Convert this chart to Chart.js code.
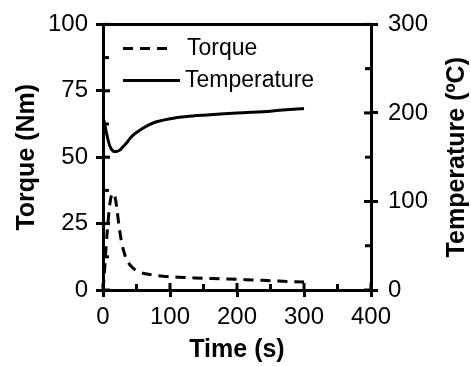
<!DOCTYPE html>
<html>
<head>
<meta charset="utf-8">
<script src="https://cdn.jsdelivr.net/npm/chart.js"></script>
<style>
  html, body { margin: 0; padding: 0; background: #fff; }
  #wrap { width: 471px; height: 367px; }
</style>
</head>
<body>
<div id="wrap"><canvas id="chart" width="471" height="367"></canvas></div>
<script>
// Torque curve (left axis, Nm)
const torqueTime = [0, 2, 4, 6, 8, 10, 12, 15, 18, 21, 24, 27, 30, 35, 40, 45, 50, 60, 70, 80, 100, 125, 150, 175, 200, 225, 250, 275, 300];
const torqueValues = [0, 6, 14, 21, 27, 32, 35, 36.5, 35, 30, 24, 19, 15.5, 11.5, 9.5, 8.2, 7.3, 6.3, 5.8, 5.4, 5, 4.7, 4.4, 4.2, 4, 3.8, 3.5, 3.2, 3];

// Temperature curve (right axis, oC)
const tempTime = [0, 3, 5, 10, 15, 20, 25, 30, 35, 40, 45, 50, 60, 70, 80, 100, 125, 150, 200, 250, 300];
const tempValues = [196, 186, 178, 163, 157, 156.5, 158, 162, 166, 171, 175, 178, 183, 187, 190, 193.5, 196, 197.5, 200, 202, 205];

// Axis ticks
const xTicks = [0, 100, 200, 300, 400];
const yTicks = [0, 25, 50, 75, 100];
const y1Ticks = [0, 100, 200, 300];

const rightTitle = 'Temperature (\u00BAC)';

const FONT = "'Liberation Sans', Arial, sans-serif";

function toPoints(xs, ys) {
    return xs.map((x, i) => ({ x: x, y: ys[i] }));
}

// Inward tick marks, minor ticks, top frame line, right title and the in-plot legend
const framePlugin = {
    id: 'frame',
    afterDraw(chart) {
        const ctx = chart.ctx;
        const area = chart.chartArea;
        const { x, y, y1 } = chart.scales;
        ctx.save();
        ctx.strokeStyle = '#000';
        ctx.lineWidth = 3;
        ctx.setLineDash([]);

        // top border
        ctx.beginPath();
        ctx.moveTo(area.left - 1.5, area.top);
        ctx.lineTo(area.right + 1.5, area.top);
        ctx.stroke();

        const seg = (x0, y0, x1, y1_) => {
            ctx.beginPath();
            ctx.moveTo(x0, y0);
            ctx.lineTo(x1, y1_);
            ctx.stroke();
        };

        // x axis: majors inward, minors inward
        xTicks.forEach(v => {
            const px = x.getPixelForValue(v);
            seg(px, area.bottom, px, area.bottom - 7);
        });
        for (let v = 50; v < 400; v += 100) {
            const px = x.getPixelForValue(v);
            seg(px, area.bottom, px, area.bottom - 6);
        }
        // left axis
        yTicks.forEach(v => {
            const py = y.getPixelForValue(v);
            seg(area.left, py, area.left + 7, py);
        });
        for (let v = 12.5; v < 100; v += 25) {
            const py = y.getPixelForValue(v);
            seg(area.left, py, area.left + 6, py);
        }
        // right axis
        y1Ticks.forEach(v => {
            const py = y1.getPixelForValue(v);
            seg(area.right, py, area.right - 7, py);
        });
        for (let v = 50; v < 300; v += 100) {
            const py = y1.getPixelForValue(v);
            seg(area.right, py, area.right - 6, py);
        }

        // right axis title, reading bottom-to-top like the left one
        ctx.save();
        ctx.translate(457, (area.top + area.bottom) / 2);
        ctx.rotate(-Math.PI / 2);
        ctx.font = 'bold 25px ' + FONT;
        ctx.fillStyle = '#000';
        ctx.textAlign = 'center';
        ctx.textBaseline = 'middle';
        ctx.fillText(rightTitle, 0, 0);
        ctx.restore();

        // legend
        ctx.font = '23px ' + FONT;
        ctx.fillStyle = '#000';
        ctx.textBaseline = 'middle';
        chart.data.datasets.forEach((ds, i) => {
            const ly = area.top + 24 + i * 32;
            const lx = area.left + 20;
            ctx.setLineDash(ds.borderDash || []);
            ctx.lineWidth = 3;
            ctx.beginPath();
            ctx.moveTo(lx, ly);
            ctx.lineTo(lx + (i === 0 ? 50 : 57), ly);
            ctx.stroke();
            ctx.setLineDash([]);
            ctx.fillText(ds.label, lx + (i === 0 ? 64 : 62), ly);
        });
        ctx.restore();
    }
};

new Chart(document.getElementById('chart'), {
    type: 'line',
    data: {
        datasets: [{
            label: 'Torque',
            data: toPoints(torqueTime, torqueValues),
            yAxisID: 'y',
            borderColor: '#000',
            borderWidth: 3,
            borderDash: [10, 7],
            pointRadius: 0,
            tension: 0.3,
            fill: false
        }, {
            label: 'Temperature',
            data: toPoints(tempTime, tempValues),
            yAxisID: 'y1',
            borderColor: '#000',
            borderWidth: 3,
            pointRadius: 0,
            tension: 0.3,
            fill: false
        }]
    },
    options: {
        responsive: false,
        animation: false,
        layout: { padding: { top: 24, left: 0, right: 0, bottom: 0 } },
        plugins: {
            legend: { display: false },
            tooltip: { enabled: false }
        },
        scales: {
            x: {
                type: 'linear',
                min: 0,
                max: 400,
                afterBuildTicks: s => { s.ticks = xTicks.map(v => ({ value: v })); },
                afterFit: s => { s.height = 77; },
                border: { display: true, color: '#000', width: 3 },
                grid: { drawOnChartArea: false, drawTicks: true, tickLength: 7, color: '#000', lineWidth: 3 },
                ticks: { color: '#000', font: { family: FONT, size: 24 }, padding: 6, maxRotation: 0 },
                title: { display: true, text: 'Time (s)', color: '#000', font: { family: FONT, size: 25, weight: 'bold' }, padding: { top: 0, bottom: 2 } }
            },
            y: {
                position: 'left',
                min: 0,
                max: 100,
                afterBuildTicks: s => { s.ticks = yTicks.map(v => ({ value: v })); },
                afterFit: s => { s.width = 103; },
                border: { display: true, color: '#000', width: 3 },
                grid: { drawOnChartArea: false, drawTicks: true, tickLength: 7, color: '#000', lineWidth: 3 },
                ticks: { color: '#000', font: { family: FONT, size: 24 }, padding: 8 },
                title: { display: true, text: 'Torque (Nm)', color: '#000', font: { family: FONT, size: 25, weight: 'bold' }, padding: { top: 12, bottom: 0 } }
            },
            y1: {
                position: 'right',
                min: 0,
                max: 300,
                afterBuildTicks: s => { s.ticks = y1Ticks.map(v => ({ value: v })); },
                afterFit: s => { s.width = 100; },
                border: { display: true, color: '#000', width: 3 },
                grid: { drawOnChartArea: false, drawTicks: true, tickLength: 7, color: '#000', lineWidth: 3 },
                ticks: { color: '#000', font: { family: FONT, size: 24 }, padding: 10 },
                title: { display: false }
            }
        }
    },
    plugins: [framePlugin]
});
</script>
</body>
</html>
